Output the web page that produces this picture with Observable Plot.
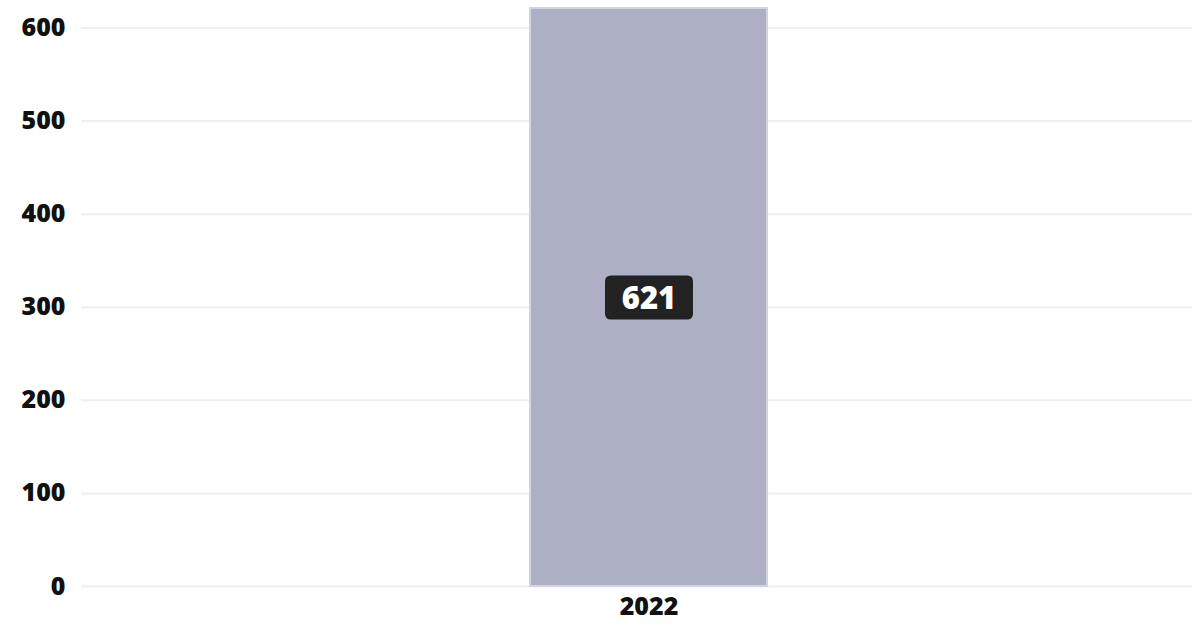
<!DOCTYPE html>
<html>
<head>
<meta charset="utf-8">
<script src="https://cdn.jsdelivr.net/npm/d3@7"></script>
<script src="https://cdn.jsdelivr.net/npm/@observablehq/plot@0.6"></script>
<style>
  html, body { margin: 0; padding: 0; background: #fff; }
</style>
</head>
<body>
<div id="chart"></div>
<script>
const years = ["2022"];
const values = [621];
const yTicks = [0, 100, 200, 300, 400, 500, 600];

const data = years.map((year, i) => ({year, value: values[i]}));

const roundedBox = {
  draw(context) {
    const w = 88, h = 44, r = 6;
    const x0 = -w / 2, y0 = -h / 2, x1 = w / 2, y1 = h / 2;
    context.moveTo(x0 + r, y0);
    context.lineTo(x1 - r, y0);
    context.quadraticCurveTo(x1, y0, x1, y0 + r);
    context.lineTo(x1, y1 - r);
    context.quadraticCurveTo(x1, y1, x1 - r, y1);
    context.lineTo(x0 + r, y1);
    context.quadraticCurveTo(x0, y1, x0, y1 - r);
    context.lineTo(x0, y0 + r);
    context.quadraticCurveTo(x0, y0, x0 + r, y0);
    context.closePath();
  }
};

const chart = Plot.plot({
  width: 1192,
  height: 625,
  marginLeft: 81,
  marginRight: 0,
  marginTop: 8,
  marginBottom: 39,
  style: {fontFamily: "'Open Sans', sans-serif", background: "#fff"},
  x: {domain: years, range: [105, 1192], padding: 0.642, label: null},
  y: {domain: [0, 621], label: null},
  marks: [
    Plot.ruleY(yTicks, {stroke: "#efefef", strokeWidth: 2}),
    Plot.barY(data, {x: "year", y: "value", fill: "#adafc5", stroke: "#d2d3df", strokeWidth: 2}),
    Plot.dot(data, {x: "year", y: d => d.value / 2, symbol: roundedBox, fill: "#222222", stroke: "none"}),
    Plot.text(data, {x: "year", y: d => d.value / 2, dy: 2, text: d => String(d.value), fill: "#ffffff", fontSize: 31, fontWeight: 800}),
    Plot.axisY({ticks: yTicks, tickSize: 0, tickPadding: 16, fontSize: 25, fontWeight: 800, tickFormat: d => String(d), label: null, color: "#111"}),
    Plot.axisX({tickSize: 0, tickPadding: 11, fontSize: 25, fontWeight: 800, label: null, color: "#111"})
  ]
});
document.getElementById("chart").appendChild(chart);
</script>
</body>
</html>
